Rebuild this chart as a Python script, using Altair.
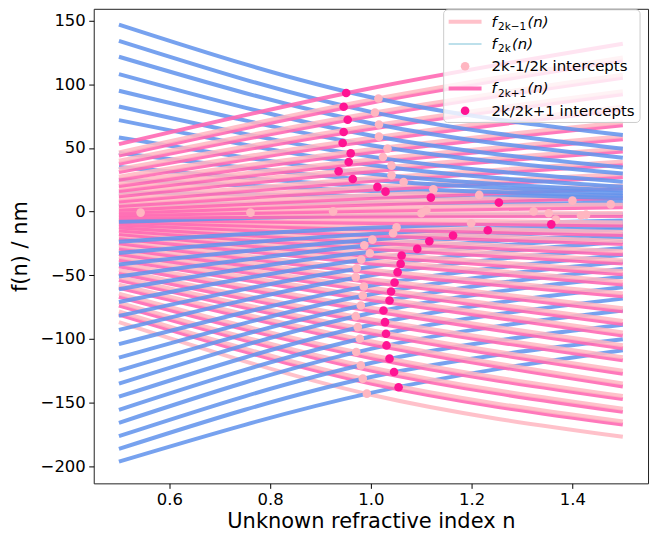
import altair as alt
import pandas as pd

n_read = [0.5, 1.0, 1.5]

# f_{2k}(n), k = 0..31 (bottom to top), values read at n = 0.5, 1.0, 1.5
blue_at_05 = [-196.5, -186.5, -176.5, -166, -155.8, -145.5, -135.2, -125, -114.8, -104.2,
              -93, -82, -71, -61, -51, -41.5, -32.5, -23.7, -8, 5,
              15, 25, 35, 46, 58.3, 71.9, 82.6, 95, 108.1, 121.7, 134.2, 147]
blue_at_10 = [-142.5, -130, -119, -107.9, -98.2, -88.9, -79.7, -72.4, -65, -58.2,
              -50.1, -43.4, -37, -31.5, -26.5, -22.1, -17.5, -12.7, -3, 7,
              12, 16.1, 19.6, 24.8, 29.7, 36.6, 43.2, 52.2, 59.8, 69.5, 78.4, 89.9]
blue_at_15 = [-109, -100.4, -88.9, -77.8, -68.4, -59.5, -51.2, -45, -39.5, -34,
              -28.6, -23.7, -20, -17.5, -13.9, -11.8, -9.6, -7, -2, 5.8,
              8.5, 10.5, 12.5, 14.5, 16.5, 19.5, 23.5, 29.9, 34.7, 42.4, 49.4, 60.2]

# f_{2k-1}(n), k = 0..31
lp_at_05 = [-86.9, -78.5, -71.5, -64.5, -57.5, -51.5, -46, -40.5, -35.5, -31,
            -26.7, -22.5, -18.7, -15.3, -12.5, -10, -7.8, -5.8, -4, -2.2,
            -0.5, 1.5, 3.8, 6.8, 10.3, 14.5, 18.5, 22.5, 27.5, 33.5, 40, 46.5]
lp_at_10 = [-144, -132.8, -122.5, -112.7, -101.9, -93.2, -84.6, -75.5, -67.1, -59.9,
            -53.1, -45.6, -38.5, -32.8, -26.8, -22, -16.3, -11.6, -6.5, -1.5,
            3, 8, 13, 19.5, 26.5, 34, 41, 49, 58, 67.5, 77.5, 88]
lp_at_15 = [-177, -165, -155, -145, -135, -125, -114.5, -105, -95, -86,
            -76, -64.1, -54.9, -46.8, -38.4, -31.2, -23.1, -16, -8.5, -1.1,
            5.8, 13.2, 20.6, 29.5, 39.3, 49.6, 59.2, 70.2, 82.4, 94.7, 107.5, 121.2]

# f_{2k+1}(n), k = 0..31
hp_at_05 = [-80.9, -73.9, -66.9, -59.9, -53.9, -48.4, -42.9, -37.9, -33.4, -29.1,
            -24.9, -21.1, -17.7, -14.9, -12.4, -10.2, -8.2, -6.4, -4.6, -2.9,
            -0.9, 1.4, 4.4, 7.9, 12.1, 16.1, 20.1, 25.1, 31.1, 37.6, 44.1, 53]
hp_at_10 = [-135.2, -124.9, -115.1, -104.3, -95.6, -87, -77.9, -69.5, -62.3, -55.5,
            -48, -40.9, -35.2, -29.2, -24.4, -18.7, -14, -8.9, -3.9, 0.6,
            5.6, 10.6, 17.1, 24.1, 31.6, 38.6, 46.6, 55.6, 65.1, 75.1, 85.6, 97]
hp_at_15 = [-167.4, -157.4, -147.4, -137.4, -127.4, -116.9, -107.4, -97.4, -88.4, -78.4,
            -66.5, -57.3, -49.2, -40.8, -33.6, -25.5, -18.4, -10.9, -3.5, 3.4,
            10.8, 18.2, 27.1, 36.9, 47.2, 56.8, 67.8, 80, 92.3, 105.1, 118.8, 132]

# 2k-1/2k intercepts
lp_dot_n = [1.015, 1.008, 1.016, 1.016, 1.033, 1.024, 1.041, 1.041, 1.065, 1.124,
            1.215, 1.400, 1.476, 0.925, 0.543, 0.761, 1.100, 1.110, 1.323, 1.353,
            1.367, 1.417, 1.427, 1.199, 1.051, 1.044, 1.003, 0.987, 0.998, 0.981,
            0.972, 0.970, 0.986, 0.984, 0.980, 0.970, 0.974, 0.978, 0.971, 0.980,
            0.984, 0.992]
lp_dot_f = [88.9, 77.9, 68.5, 58.9, 49.5, 42.9, 36.1, 28.5, 23.3, 17.5,
            13.1, 8.6, 5.7, 0.2, -0.8, -0.8, -1.3, 1.3, 0.2, -1.3,
            -6.3, -3.1, -2.4, -9.2, -12.3, -17.0, -22.0, -26.5, -32.7, -37.7,
            -44.5, -51.5, -58.9, -65.9, -73.8, -82.2, -90.8, -99.9, -110.4, -120.9,
            -131.3, -143.1]

# 2k/2k+1 intercepts
hp_dot_n = [0.951, 0.946, 0.954, 0.946, 0.944, 0.960, 0.956, 0.936, 0.964, 1.013,
            1.029, 1.119, 1.254, 1.358, 1.232, 1.163, 1.116, 1.092, 1.061, 1.059,
            1.053, 1.047, 1.040, 1.037, 1.025, 1.028, 1.030, 1.031, 1.037, 1.046,
            1.055]
hp_dot_f = [93.2, 82.4, 72.2, 62.6, 53.9, 45.8, 39.0, 31.7, 25.6, 19.4,
            15.7, 11.0, 7.1, -10.0, -14.7, -18.8, -23.3, -29.3, -34.5, -41.1,
            -47.6, -55.7, -62.8, -69.9, -77.7, -86.9, -96.0, -105.2, -115.6, -126.1,
            -138.1]

# legend entries: (main symbol, subscript, argument) or plain text
legend_entries = [("f", "2k\u22121", "(n)"), ("f", "2k", "(n)"), "2k-1/2k intercepts",
                  ("f", "2k+1", "(n)"), "2k/2k+1 intercepts"]

# ---------------------------------------------------------------- build tables
rows = []
for k in range(len(blue_at_05)):
    trio = [("lp", lp_at_05[k], lp_at_10[k], lp_at_15[k]),
            ("blue", blue_at_05[k], blue_at_10[k], blue_at_15[k]),
            ("hp", hp_at_05[k], hp_at_10[k], hp_at_15[k])]
    for i, (fam, a, b, c) in enumerate(trio):
        cid = f"c{3 * k + i:03d}"
        for nv, fv in zip(n_read, (a, b, c)):
            rows.append({"n": nv, "f": fv, "curve": cid, "family": fam})
lines_df = pd.DataFrame(rows)

lp_dots = pd.DataFrame({"n": lp_dot_n, "f": lp_dot_f})
hp_dots = pd.DataFrame({"n": hp_dot_n, "f": hp_dot_f})

W, H = 556, 476
FONT = "DejaVu Sans"
xscale = alt.Scale(domain=[0.45, 1.55], nice=False, zero=False)
yscale = alt.Scale(domain=[-213.6, 159.4], nice=False, zero=False)

fams = ["lp", "blue", "hp"]
lines = alt.Chart(lines_df).mark_line(interpolate="monotone").encode(
    x=alt.X("n:Q", scale=xscale,
            axis=alt.Axis(values=[0.6, 0.8, 1.0, 1.2, 1.4], format=".1f",
                          title="Unknown refractive index n", titleY=27)),
    y=alt.Y("f:Q", scale=yscale,
            axis=alt.Axis(values=[-200, -150, -100, -50, 0, 50, 100, 150], format="d",
                          title="f(n) / nm", titleX=-63, titleY=H / 2)),
    detail="curve:N",
    color=alt.Color("family:N", scale=alt.Scale(domain=fams,
                    range=["#ffb6c1", "#6495ed", "#ff69b4"]), legend=None),
    strokeWidth=alt.StrokeWidth("family:N", scale=alt.Scale(domain=fams,
                                range=[4, 4, 2.6]), legend=None),
    opacity=alt.Opacity("family:N", scale=alt.Scale(domain=fams,
                        range=[0.85, 0.9, 0.9]), legend=None),
)

lp_pts = alt.Chart(lp_dots).mark_circle(size=75, color="#ffb6c1", opacity=1).encode(
    x=alt.X("n:Q", scale=xscale), y=alt.Y("f:Q", scale=yscale))
hp_pts = alt.Chart(hp_dots).mark_circle(size=75, color="#ff1493", opacity=1).encode(
    x=alt.X("n:Q", scale=xscale), y=alt.Y("f:Q", scale=yscale))

one = pd.DataFrame({"i": [0]})
box = alt.Chart(one).mark_rect(fill="white", fillOpacity=0.8, stroke="#cccccc",
                               strokeWidth=1, cornerRadius=4).encode(
    x=alt.value(351), x2=alt.value(548), y=alt.value(1), y2=alt.value(114))

row_y = [13 + 22.3 * i for i in range(5)]
handle_styles = [("line", "#ffb6c1", 4, 0.85), ("line", "#add8e6", 2, 0.8),
                 ("dot", "#ffb6c1", 0, 1), ("line", "#ff69b4", 4, 0.95),
                 ("dot", "#ff1493", 0, 1)]
FS = 15
SUB = 10.5
handles = []
for yy, (kind, col, sw, op), entry in zip(row_y, handle_styles, legend_entries):
    if kind == "line":
        handles.append(alt.Chart(one).mark_rule(color=col, strokeWidth=sw, opacity=op).encode(
            x=alt.value(356), x2=alt.value(389), y=alt.value(yy)))
    else:
        handles.append(alt.Chart(one).mark_circle(color=col, size=75, opacity=op).encode(
            x=alt.value(372.5), y=alt.value(yy)))
    base = yy + 5
    if isinstance(entry, str):
        handles.append(alt.Chart(one).mark_text(align="left", baseline="alphabetic",
                                                fontSize=FS, font=FONT, color="black").encode(
            x=alt.value(399), y=alt.value(base), text=alt.value(entry)))
    else:
        main, sub, arg = entry
        sub_w = {"2k": 13, "2k\u22121": 28.5, "2k+1": 28.5}[sub]
        handles.append(alt.Chart(one).mark_text(align="left", baseline="alphabetic",
                                                fontSize=FS, font=FONT, fontStyle="italic",
                                                color="black").encode(
            x=alt.value(399), y=alt.value(base), text=alt.value(main)))
        handles.append(alt.Chart(one).mark_text(align="left", baseline="alphabetic",
                                                fontSize=SUB, font=FONT, color="black").encode(
            x=alt.value(405.5), y=alt.value(base + 3.5), text=alt.value(sub)))
        handles.append(alt.Chart(one).mark_text(align="left", baseline="alphabetic",
                                                fontSize=FS, font=FONT, fontStyle="italic",
                                                color="black").encode(
            x=alt.value(405.5 + sub_w + 1), y=alt.value(base), text=alt.value(arg)))

chart = alt.layer(lines, lp_pts, hp_pts, box, *handles).properties(
    width=W, height=H,
    padding={"left": 86, "top": 0, "right": 9, "bottom": 52},
    autosize=alt.AutoSizeParams(type="none"),
).configure_view(stroke="#222222", strokeWidth=1).configure_axis(
    grid=False, domain=False, tickColor="black", tickSize=5, tickWidth=1,
    labelFont=FONT, titleFont=FONT, labelFontSize=16.5,
    labelColor="black", titleColor="black", titleFontSize=21,
    titleFontWeight="normal", labelPadding=3.5,
)

chart.save("out.html", embed_options={"renderer": "svg", "actions": False})
